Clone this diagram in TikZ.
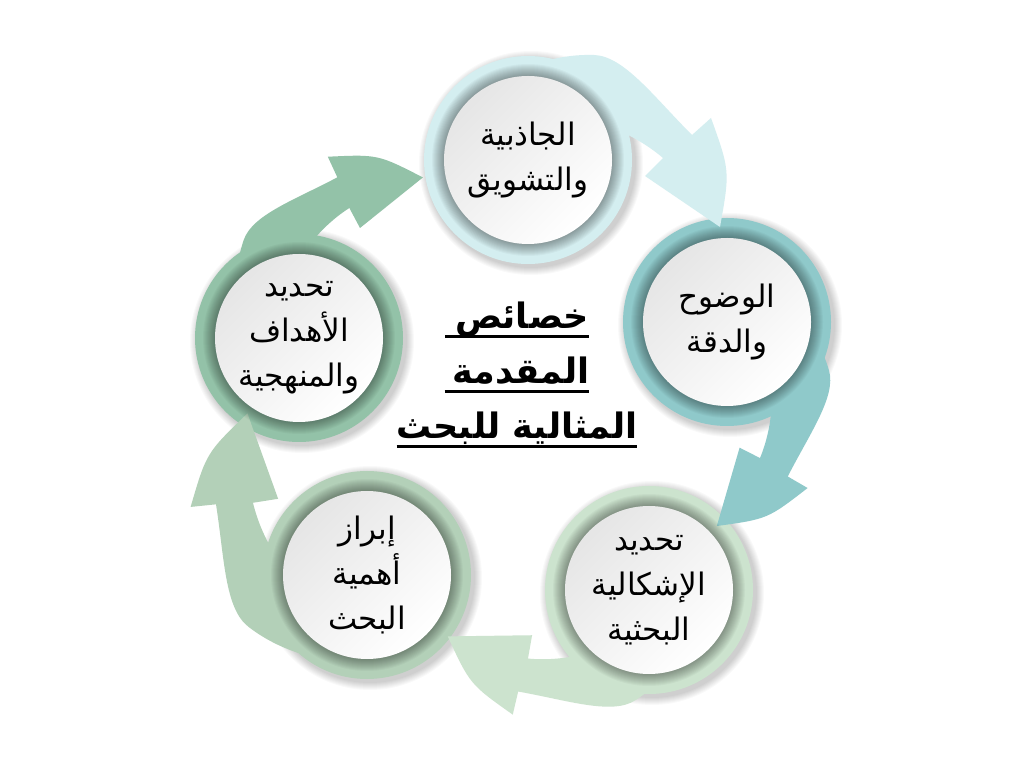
\documentclass[tikz,border=0pt]{standalone}
\usepackage{fontspec}
\newfontfamily\arabicfont[Script=Arabic]{DejaVu Sans}
\TeXXeTstate=1
\usetikzlibrary{positioning}

\definecolor{ringcyan}{HTML}{D4EEF0}
\definecolor{ringteal}{HTML}{8FC9CA}
\definecolor{ringpale}{HTML}{CCE3CE}
\definecolor{ringsage}{HTML}{B3D0B8}
\definecolor{ringgreen}{HTML}{93C2A8}

\newcommand{\ar}[1]{{\arabicfont\beginR #1\endR}}
\newcommand{\titleline}[1]{\setbox0\hbox{#1}\rlap{\rule[-9pt]{\wd0}{2.5pt}}\box0}

% one curved cycle arrow, turned and scaled round the centre (cc)
\newcommand{\cyclearrow}[3]{%
  \begin{scope}[shift={(cc)}, rotate=#1, scale=#2]
    \fill[#3] (-10,320) .. controls (20,335) and (50,343) .. (80,342)
      .. controls (110,341) and (140,300) .. (178,262)
      -- (197,279) .. controls (216,226) .. (206,170)
      -- (131,221) -- (149,239)
      .. controls (115,268) and (60,290) .. (-10,282) -- cycle;
  \end{scope}}

\begin{document}
\begin{tikzpicture}[x=1pt, y=1pt,
    ringtext/.style={font=\fontsize{31}{45}\selectfont, align=center, text=black},
    titletext/.style={font=\fontsize{35}{55}\selectfont\bfseries, align=center}]
  \fill[white] (0,0) rectangle (1024,768);
  \useasboundingbox (0,0) rectangle (1024,768);

  \coordinate (cc) at (514,371);
  \coordinate (attract) at (528,608);
  \coordinate (clarity) at (727,446);
  \coordinate (problem) at (649,178);
  \coordinate (worth) at (367,193);
  \coordinate (goals) at (299,430);

  % rings with a soft shadow
  \foreach \p/\col in {attract/ringcyan, clarity/ringteal, problem/ringpale, worth/ringsage, goals/ringgreen}{
    \foreach \i in {1,...,8}
      \fill[black, opacity=0.025] ([shift={(3,-3)}]\p) circle[radius=104+\i];
    \fill[\col] (\p) circle[radius=104];
  }

  % arrows
  \cyclearrow{0}{1}{ringcyan}
  \cyclearrow{-72}{0.9}{ringteal}
  \cyclearrow{-145}{0.93}{ringpale}
  \cyclearrow{-216}{1}{ringsage}
  \cyclearrow{73}{0.89}{ringgreen}

  % inner shadow and white face
  \foreach \p in {attract, clarity, problem, worth, goals}{
    \foreach \r in {85,...,96}
      \fill[black, opacity=0.03] (\p) circle[radius=\r];
    \shade[top color=black!10, bottom color=white, shading angle=45] (\p) circle[radius=84];
  }

  \node[ringtext] (attracttext) at (attract) {\ar{الجاذبية}\\\ar{والتشويق}};
  \node[ringtext] (claritytext) at (clarity) {\ar{الوضوح}\\\ar{والدقة}};
  \node[ringtext] (problemtext) at (problem) {\ar{تحديد}\\\ar{الإشكالية}\\\ar{البحثية}};
  \node[ringtext] (worthtext) at (worth) {\ar{إبراز}\\\ar{أهمية}\\\ar{البحث}};
  \node[ringtext] (goalstext) at (goals) {\ar{تحديد}\\\ar{الأهداف}\\\ar{والمنهجية}};

  \node[titletext] (title) at (517,393)
    {\titleline{\kern10pt\ar{خصائص}}\\\titleline{\kern8pt\ar{المقدمة}}\\\titleline{\ar{المثالية للبحث}}};
\end{tikzpicture}
\end{document}
